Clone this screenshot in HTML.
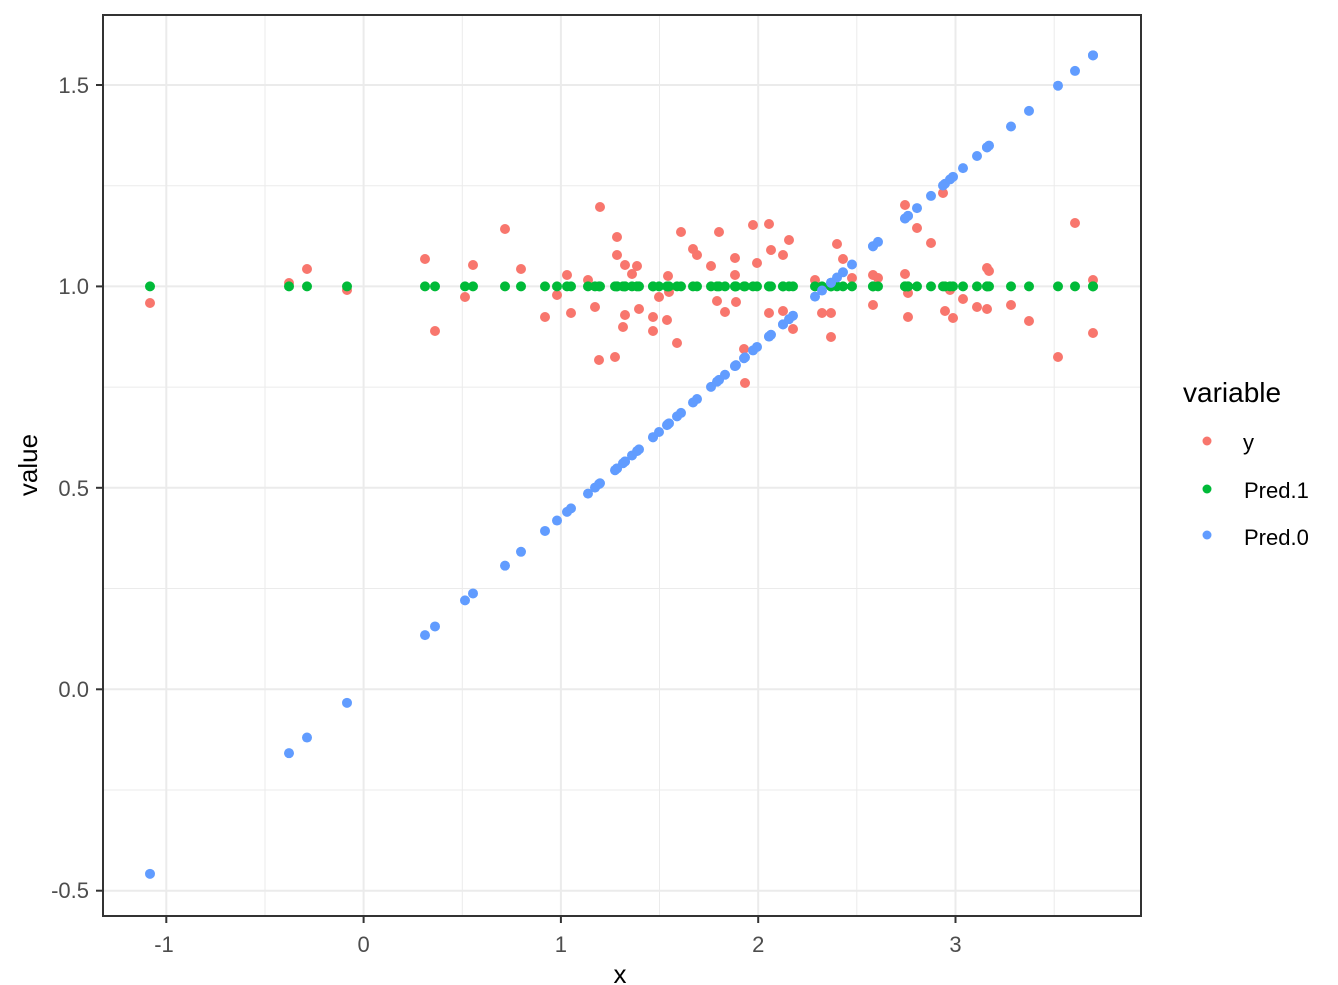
<!DOCTYPE html>
<html>
<head>
<meta charset="utf-8">
<style>
html,body{margin:0;padding:0;background:#fff;}
svg{display:block;}
text{font-family:"Liberation Sans",Arial,sans-serif;}
</style>
</head>
<body>
<svg id="plot" width="1338" height="985" viewBox="0 0 1338 985" xmlns="http://www.w3.org/2000/svg">
<rect x="0" y="0" width="1338" height="985" fill="#ffffff"/>
<!-- minor grid -->
<g stroke="#ebebeb" stroke-width="1">
<line x1="265" y1="15" x2="265" y2="916"/>
<line x1="462.3" y1="15" x2="462.3" y2="916"/>
<line x1="659.5" y1="15" x2="659.5" y2="916"/>
<line x1="856.8" y1="15" x2="856.8" y2="916"/>
<line x1="1054.2" y1="15" x2="1054.2" y2="916"/>
<line x1="103" y1="185.7" x2="1141" y2="185.7"/>
<line x1="103" y1="387.1" x2="1141" y2="387.1"/>
<line x1="103" y1="588.5" x2="1141" y2="588.5"/>
<line x1="103" y1="790" x2="1141" y2="790"/>
</g>
<!-- major grid -->
<g stroke="#ebebeb" stroke-width="2">
<line x1="166.3" y1="15" x2="166.3" y2="916"/>
<line x1="363.6" y1="15" x2="363.6" y2="916"/>
<line x1="560.9" y1="15" x2="560.9" y2="916"/>
<line x1="758.2" y1="15" x2="758.2" y2="916"/>
<line x1="955.5" y1="15" x2="955.5" y2="916"/>
<line x1="103" y1="85" x2="1141" y2="85"/>
<line x1="103" y1="286.4" x2="1141" y2="286.4"/>
<line x1="103" y1="487.8" x2="1141" y2="487.8"/>
<line x1="103" y1="689.3" x2="1141" y2="689.3"/>
<line x1="103" y1="890.7" x2="1141" y2="890.7"/>
</g>
<g id="pts"></g>
<!-- panel border -->
<rect x="103" y="15" width="1038" height="901" fill="none" stroke="#333333" stroke-width="2"/>
<!-- ticks -->
<g stroke="#333333" stroke-width="2">
<line x1="96" y1="85" x2="103" y2="85"/>
<line x1="96" y1="286.4" x2="103" y2="286.4"/>
<line x1="96" y1="487.8" x2="103" y2="487.8"/>
<line x1="96" y1="689.3" x2="103" y2="689.3"/>
<line x1="96" y1="890.7" x2="103" y2="890.7"/>
<line x1="166.3" y1="916" x2="166.3" y2="923"/>
<line x1="363.6" y1="916" x2="363.6" y2="923"/>
<line x1="560.9" y1="916" x2="560.9" y2="923"/>
<line x1="758.2" y1="916" x2="758.2" y2="923"/>
<line x1="955.5" y1="916" x2="955.5" y2="923"/>
</g>
<g fill="#4d4d4d" font-size="22" text-anchor="end">
<text x="89" y="93">1.5</text>
<text x="89" y="294">1.0</text>
<text x="89" y="496">0.5</text>
<text x="89" y="697">0.0</text>
<text x="89" y="898">-0.5</text>
</g>
<g fill="#4d4d4d" font-size="22" text-anchor="middle">
<text x="164" y="952">-1</text>
<text x="363.6" y="952">0</text>
<text x="560.9" y="952">1</text>
<text x="758.2" y="952">2</text>
<text x="955.5" y="952">3</text>
</g>
<text x="620" y="983" font-size="26" text-anchor="middle" fill="#000">x</text>
<text transform="translate(37,465) rotate(-90)" font-size="26" text-anchor="middle" fill="#000">value</text>
<!-- legend -->
<text x="1183" y="402" font-size="28" fill="#000">variable</text>
<circle cx="1207" cy="441" r="4.5" fill="#F8766D"/>
<circle cx="1207" cy="489" r="4.5" fill="#00BA38"/>
<circle cx="1207" cy="535" r="4.5" fill="#619CFF"/>
<g font-size="22" fill="#000">
<text x="1243" y="450">y</text>
<text x="1244" y="498">Pred.1</text>
<text x="1244" y="545">Pred.0</text>
</g>
</svg>
<script>
(function(){
var red=[[150,303],[289,283],[307,269],[347,290],[425,259],[435,331],[465,297],[473,265],[505,229],[521,269],[545,317],[557,295],[567,275],[571,313],[588,280],[595,307],[599,360],[600,207],[615,357],[617,237],[617,255],[623,327],[625,265],[625,315],[632,274],[637,266],[639,309],[653,317],[653,331],[659,297],[668,276],[669,292],[667,320],[677,343],[681,232],[693,249],[697,255],[711,266],[717,301],[719,232],[725,312],[735,258],[735,275],[736,302],[744,349],[745,383],[753,225],[757,263],[769,224],[769,313],[771,250],[783,255],[783,311],[789,240],[793,329],[815,280],[822,313],[831,313],[831,337],[837,244],[843,259],[852,278],[873,275],[873,305],[878,278],[905,205],[905,274],[908,293],[908,317],[917,228],[931,243],[943,193],[945,311],[950,290],[953,318],[963,299],[977,307],[987,268],[989,271],[987,309],[1011,305],[1029,321],[1058,357],[1075,223],[1093,280],[1093,333]];
var g=document.getElementById('pts');
var ns='http://www.w3.org/2000/svg';
function dot(x,y,c){var e=document.createElementNS(ns,'circle');e.setAttribute('cx',x);e.setAttribute('cy',y);e.setAttribute('r',5);e.setAttribute('fill',c);g.appendChild(e);}
var i;
for(i=0;i<red.length;i++)dot(red[i][0],red[i][1],'#F8766D');
for(i=0;i<red.length;i++)dot(red[i][0],286.4,'#00BA38');
for(i=0;i<red.length;i++){
 var xv=(red[i][0]-363.6)/197.3;
 var yv=0.0022+0.4251*xv;
 dot(red[i][0],689.3-402.85*yv,'#619CFF');
}
})();
</script>
</body>
</html>
